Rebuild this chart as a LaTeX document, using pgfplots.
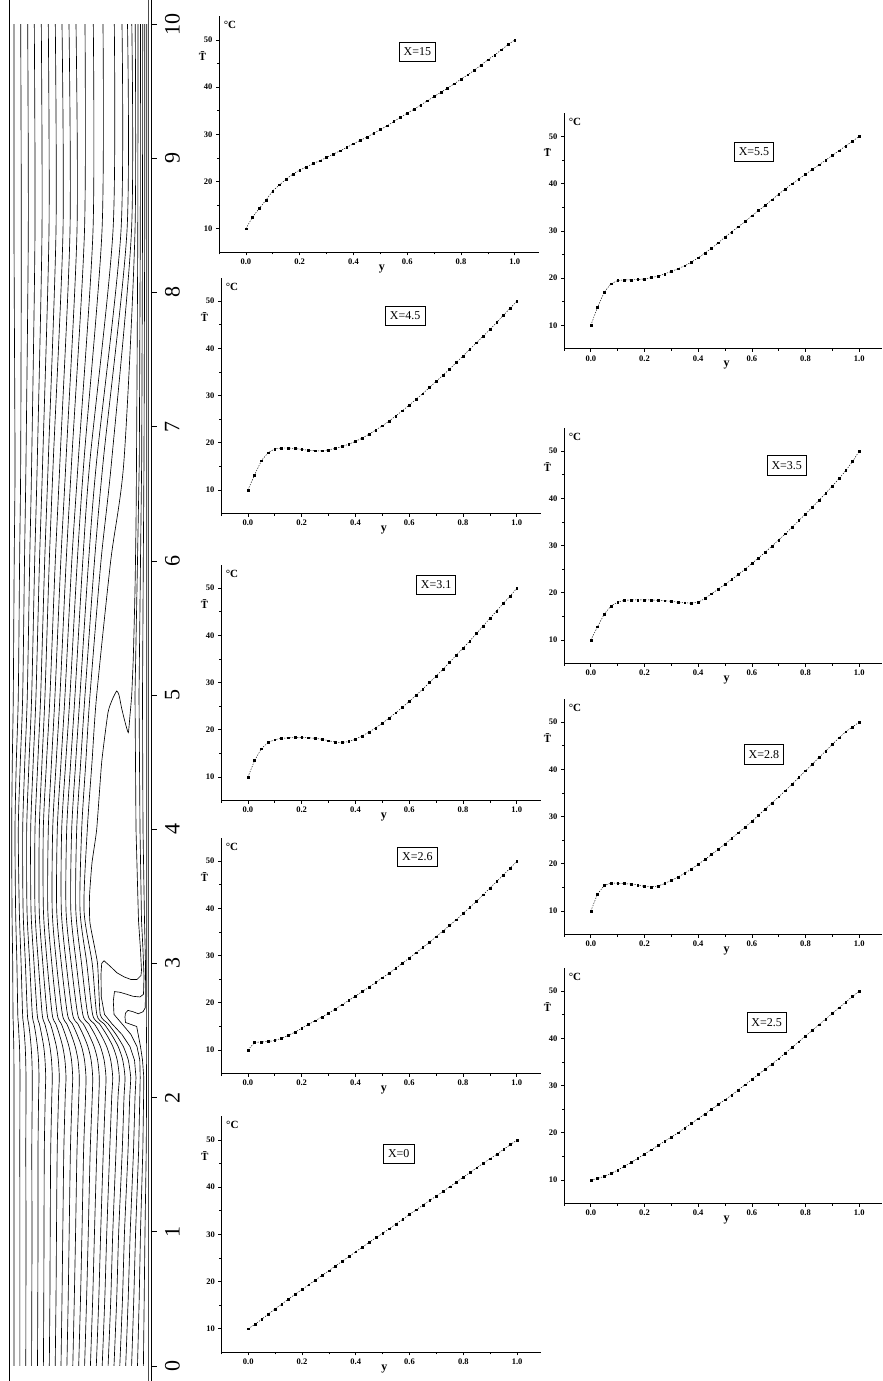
\documentclass[border=0pt]{standalone}
\usepackage{fontspec}
\setmainfont{Liberation Serif}
\usepackage{pgfplots}
\usepackage{pgfplotstable}
\pgfplotsset{compat=1.18}

% contour lines: horizontal position (px) of each isotherm at given X
\pgfplotstableread{
X a0 a1 a2 a3 a4 a5 a6 a7 a8 a9 a10 a11 a12 a13 a14 a15 a16 a17 a22
0 14 19.9 25.8 31.6 37.5 43.4 49.3 55.2 61 66.9 72.8 78.7 84.6 90.4 96.3 102.2 108.1 114 143.4
0.5 14 19.9 25.9 31.8 37.8 43.8 49.9 56 62 68.2 74.3 80.5 86.6 92.7 98.8 104.8 110.8 116.7 144.2
1.0 14 19.9 26 32 38 44 50.2 56.5 62.8 69.2 75.6 82 88.3 94.5 100.7 106.8 112.8 118.7 145
1.6 14 19.8 25.8 31.8 38 44.3 50.7 57.2 63.8 70.4 77 83.6 90.2 96.8 103.3 109.7 116 122.2 146.2
2.0 14 19.9 26 32.2 38.6 45.2 51.8 58.5 65.2 72 78.8 85.5 92.2 98.8 105.3 111.7 118 124 146.5
2.15 14 20 26 32.3 39 45.7 52.3 59.3 66 72.7 79.3 86 92.7 99.3 106 112.7 119.3 125 146.5
2.28 13.9 19.8 25.7 31.9 38.5 45 51.5 58.3 64.9 71.5 78 84.5 91.1 97.6 104.1 110.7 117.2 122.7 146.4
2.38 13.8 19.5 25.2 31.1 37.4 43.7 49.9 56.4 62.7 69 75.2 81.6 87.9 94.1 100.4 106.7 112.9 118.2 146.4
2.47 13.5 18.9 24.4 30 35.8 41.6 47.5 53.5 59.4 65.3 71.2 77.1 83.1 88.9 94.9 100.8 106.5 111.5 146.5
2.55 13.3 18.4 23.5 28.7 34 39.4 44.8 50.4 55.8 61.3 66.8 72.3 77.8 83.3 88.8 94.3 99.5 104.1 146.6
2.62 13 17.8 22.6 27.4 32.3 37.2 42.2 47.2 52.2 57.3 62.4 67.5 72.6 77.7 82.8 87.8 92.6 96.8 146.6
3.0 12.7 16.9 21.1 25.4 29.7 34 38.4 42.8 47.2 51.8 56.5 61.3 66.2 71.2 76.3 81.5 86.8 92.2 146.8
3.4 12 15.6 19.3 23.1 27 31 35 39.2 43.4 47.8 52.2 56.7 61.3 66 70.8 75.8 80 84 146.8
4.0 11.7 15 18.3 22.7 26.7 30.7 35 39.3 43.3 48.3 52.7 57.3 61.7 66.7 71.7 76.7 81.7 87.3 146.8
4.5 12.3 16.3 20.3 24.8 29 33.2 37.8 42 46.5 51.5 56.2 61 65.7 70.7 75.7 80.7 85.8 92 146.8
5.0 13.3 18.3 22.7 27.3 31.7 36 40.7 45 50 55 60 65 70 75 80 85 90 96.7 146.8
6.0 14.2 19.6 24.5 29.7 34.7 39.5 44.7 49.3 55.3 60.8 66.2 71.8 77.3 82.8 88.6 94.5 101 110.7 146.8
6.75 15 20.7 26 31.7 37.3 42.7 48.3 53.3 60 66 71.7 78.3 84 90 96.7 103.3 111.7 124 146.8
8.46 14 21.3 28.3 35 42 49 56 63 70 77 84.5 93 102 113 121 127 131.5 135 146.8
10 14 20.7 27.7 34.3 41.3 48.3 55.3 62 69 76 85 93.3 103 114.3 122 127.5 131.8 135.2 146.8
}\contab

% temperature profiles T(y) at the nine sections
\pgfplotstableread{
y t15 t45 t31 t26 t0 t55 t35 t28 t25
0 10 10 10 10 10 10 10 10 10
0.025 12.5 13.2 13.5 11.6 10.9 13.8 12.8 13.6 10.3
0.05 14.3 16.2 16.0 11.7 12.0 17.0 15.5 15.4 10.8
0.075 16.1 17.9 17.3 11.8 13.1 18.8 17.2 15.9 11.4
0.1 18.0 18.7 17.9 12.0 14.2 19.5 18.0 15.9 12.1
0.125 19.3 18.9 18.2 12.5 15.2 19.6 18.4 15.8 12.9
0.15 20.5 18.9 18.3 13.1 16.3 19.6 18.5 15.7 13.7
0.175 21.6 18.8 18.4 13.8 17.3 19.7 18.5 15.5 14.6
0.2 22.4 18.6 18.4 14.6 18.3 19.8 18.5 15.2 15.5
0.225 23.1 18.4 18.3 15.4 19.3 20.1 18.5 15.1 16.4
0.25 23.8 18.3 18.2 16.2 20.3 20.4 18.4 15.3 17.3
0.275 24.4 18.3 18.0 17.0 21.3 20.9 18.3 15.8 18.2
0.3 25.1 18.5 17.7 17.8 22.3 21.4 18.2 16.5 19.1
0.325 25.8 18.8 17.4 18.7 23.3 22.0 18.0 17.2 20.0
0.35 26.5 19.2 17.3 19.6 24.3 22.6 17.9 18.0 21.0
0.375 27.2 19.7 17.5 20.5 25.3 23.4 17.8 18.9 22.0
0.4 28.0 20.3 18.0 21.4 26.3 24.3 18.0 19.9 23.0
0.425 28.7 21.0 18.7 22.4 27.3 25.3 18.8 20.9 24.0
0.45 29.4 21.8 19.5 23.3 28.3 26.3 19.8 22.0 25.0
0.475 30.2 22.7 20.4 24.3 29.3 27.5 20.8 23.1 26.0
0.5 31.0 23.6 21.4 25.3 30.2 28.7 21.8 24.2 27.0
0.525 31.8 24.6 22.5 26.3 31.2 29.8 22.8 25.4 28.0
0.55 32.7 25.7 23.6 27.3 32.2 30.9 23.9 26.6 29.1
0.575 33.6 26.8 24.8 28.4 33.2 32.0 25.0 27.8 30.2
0.6 34.5 28.0 26.0 29.5 34.2 33.2 26.2 29.0 31.3
0.625 35.3 29.2 27.3 30.6 35.2 34.3 27.4 30.3 32.4
0.65 36.2 30.4 28.6 31.7 36.2 35.4 28.6 31.6 33.5
0.675 37.1 31.7 30.0 32.8 37.2 36.6 29.9 32.9 34.6
0.7 38.0 33.0 31.4 34.0 38.1 37.8 31.2 34.2 35.7
0.725 38.9 34.3 32.8 35.2 39.1 38.9 32.5 35.5 36.9
0.75 39.8 35.6 34.3 36.4 40.1 40.0 33.9 36.9 38.1
0.775 40.7 37.0 35.8 37.6 41.1 41.0 35.3 38.3 39.3
0.8 41.7 38.4 37.3 38.9 42.1 42.0 36.7 39.7 40.5
0.825 42.6 39.8 38.8 40.2 43.1 43.0 38.1 41.1 41.7
0.85 43.6 41.2 40.4 41.5 44.1 44.0 39.6 42.5 42.9
0.875 44.7 42.6 42.0 42.9 45.1 45.0 41.1 43.9 44.1
0.9 45.8 44.0 43.6 44.3 46.0 46.0 42.6 45.3 45.3
0.925 46.8 45.5 45.2 45.7 47.0 47.0 44.2 46.7 46.5
0.95 47.9 47.0 46.8 47.1 48.0 48.0 45.9 48.0 47.7
0.975 49.0 48.5 48.3 48.5 49.0 49.0 47.8 49.0 48.9
1.0 50 50 50 50 50 50 50 50 50
}\prof

\pgfplotsset{
  sub/.style={
    scale only axis, width=320pt, height=236pt, anchor=south west,
    xmin=-0.1, xmax=1.09, ymin=5, ymax=55,
    axis x line=bottom, axis y line=left,
    axis line style={-, line width=0.9pt},
    xtick={0,0.2,0.4,0.6,0.8,1},
    minor xtick={-0.1,0.1,0.3,0.5,0.7,0.9},
    ytick={10,20,30,40,50},
    minor ytick={15,25,35,45},
    tick align=outside, major tick length=3pt, minor tick length=2pt,
    tick style={black, line width=0.7pt},
    tick label style={font=\fontsize{8.5}{9}\selectfont\bfseries},
    xticklabel style={/pgf/number format/.cd, fixed, fixed zerofill, precision=1},
    /pgf/number format/assume math mode=true,
    clip=false,
  },
  subR/.style={sub, width=318pt, xmax=1.085},
  dat/.style={black, line width=0.45pt, dash pattern=on 1.3pt off 1.3pt, mark=square*, mark size=0.9pt, mark options={solid}},
  cl/.style={black, line width=0.65pt},
}

\newcommand{\subdeco}[3]{%
  \node[font=\fontsize{11}{12}\selectfont\bfseries] at (rel axis cs:0,1) [xshift=11pt,yshift=-9pt] {°C};
  \node[font=\fontsize{11}{12}\selectfont\bfseries] at (axis cs:-0.1,46.6) [xshift=-16.5pt] {\=T};
  \node[font=\fontsize{12}{13}\selectfont\bfseries] at (axis cs:0.506,5) [yshift=-16.5pt] {y};
  \node[draw, line width=0.7pt, inner xsep=4.5pt, inner ysep=5.5pt, font=\fontsize{12}{13}\selectfont] at (axis cs:#2,#3) {#1};
}

\begin{document}
\begin{tikzpicture}
\useasboundingbox (0,0) rectangle (883pt,1381pt);

% ---------- contour panel ----------
\begin{axis}[
  scale only axis, width=142.5pt, height=1381pt,
  at={(9pt,0pt)}, anchor=south west,
  xmin=9, xmax=151.5, ymin=-0.112, ymax=10.18,
  axis x line=none, axis y line=right,
  axis line style={-, line width=0.7pt},
  ytick={0,1,2,3,4,5,6,7,8,9,10},
  tick align=outside, major tick length=5pt,
  tick style={black, line width=0.7pt},
  yticklabel style={rotate=90, anchor=north, font=\fontsize{22}{24}\selectfont},
  yticklabel shift=5pt,
  /pgf/number format/assume math mode=true,
]
\draw[line width=0.8pt] (rel axis cs:0,0) -- (rel axis cs:0,1);
\draw[line width=0.6pt, black!70] (axis cs:148,-0.112) -- (axis cs:148,10.18);
\pgfplotsinvokeforeach{0,1,2,3,4,5,6,7,8,9,10,11,12,13,14,15,16,17,22}{
  \addplot[cl, smooth, tension=0.45] table[x=a#1, y=X] {\contab};
}
% isotherm with the loop near X=5
\addplot[cl, smooth, tension=0.3] coordinates {(119.8,0) (122.5,0.5) (124.5,1.0) (128,1.6) (129.7,2.0) (130.7,2.15) (128.3,2.28) (123.4,2.38) (116.1,2.47) (108.1,2.55) (100.2,2.62) (97.5,3.0) (90,3.3) (89.5,3.5) (92,3.75) (96.7,4.0) (101.7,4.5) (108,4.87) (112.5,4.97) (116.7,5.03) (119,5.0) (121.7,4.9) (125,4.8) (128.3,4.72) (130,4.85) (131.7,5.0) (133.3,5.28) (135,5.78) (136,6.27) (136.5,6.75) (137.8,8.46) (138,10)};
\addplot[cl] coordinates {(125.7,0) (128.2,0.5) (130.2,1.0) (133.5,1.6) (135,2.0) (136,2.15) (134.5,2.28) (130,2.38) (122,2.47) (112,2.55) (104.5,2.62) (101.3,2.75) (101,2.92) (101.7,3.0) (104,3.02) (110,2.98) (117,2.93) (124,2.9) (131,2.88) (137,2.88) (141,2.91) (141.5,2.95) (140.5,3.1) (138.5,3.32) (136,4.0) (135.5,4.5) (135,5.0) (137.5,6.0) (139.3,6.75) (140.3,8.46) (140.5,10)};
\addplot[cl] coordinates {(131.6,0) (133.8,0.5) (135.6,1.0) (138.6,1.6) (139.8,2.0) (140.2,2.15) (139.8,2.28) (137,2.38) (131,2.47) (122,2.55) (114,2.62) (113.3,2.72) (114.5,2.79) (120,2.785) (126.7,2.77) (133,2.755) (140,2.75) (143.5,2.77) (144,2.9) (143,3.1) (141.5,3.32) (140,4.0) (139.5,4.5) (139,5.0) (140.5,6.0) (141.7,6.75) (142.5,8.46) (142.7,10)};
\addplot[cl] coordinates {(137.5,0) (139.2,0.5) (140.5,1.0) (142.8,1.6) (143.6,2.0) (143.8,2.15) (142.5,2.28) (140.5,2.38) (138.2,2.47) (136.7,2.53) (131,2.545) (125.5,2.56) (125,2.6) (125.5,2.63) (128,2.65) (133,2.64) (138.3,2.625) (143,2.64) (145.3,2.67) (145.5,3.0) (144.5,3.32) (143,4.0) (142.7,4.5) (142.5,5.0) (143.3,6.0) (144,6.75) (144.7,8.46) (144.8,10)};
\end{axis}

% ---------- left column ----------
\begin{axis}[sub, at={(219pt,1128.7pt)}]
\addplot[dat] table[x=y, y=t15] {\prof};
\subdeco{X=15}{0.638}{47.5}
\end{axis}

\begin{axis}[sub, at={(221pt,867.4pt)}]
\addplot[dat] table[x=y, y=t45] {\prof};
\subdeco{X=4.5}{0.585}{46.9}
\end{axis}

\begin{axis}[sub, at={(221pt,580.4pt)}]
\addplot[dat] table[x=y, y=t31] {\prof};
\subdeco{X=3.1}{0.70}{50.8}
\end{axis}

\begin{axis}[sub, at={(221pt,307.4pt)}]
\addplot[dat] table[x=y, y=t26] {\prof};
\subdeco{X=2.6}{0.63}{51}
\end{axis}

\begin{axis}[sub, at={(221.3pt,28.7pt)}]
\addplot[dat] table[x=y, y=t0] {\prof};
\subdeco{X=0}{0.56}{47.0}
\end{axis}

% ---------- right column ----------
\begin{axis}[subR, at={(564pt,1032.1pt)}]
\addplot[dat] table[x=y, y=t55] {\prof};
\subdeco{X=5.5}{0.608}{46.8}
\end{axis}

\begin{axis}[subR, at={(564pt,717.4pt)}]
\addplot[dat] table[x=y, y=t35] {\prof};
\subdeco{X=3.5}{0.73}{47}
\end{axis}

\begin{axis}[subR, at={(564pt,446.4pt)}]
\addplot[dat] table[x=y, y=t28] {\prof};
\subdeco{X=2.8}{0.645}{43.2}
\end{axis}

\begin{axis}[subR, at={(564pt,177.4pt)}]
\addplot[dat] table[x=y, y=t25] {\prof};
\subdeco{X=2.5}{0.655}{43.4}
\end{axis}
\end{tikzpicture}
\end{document}
